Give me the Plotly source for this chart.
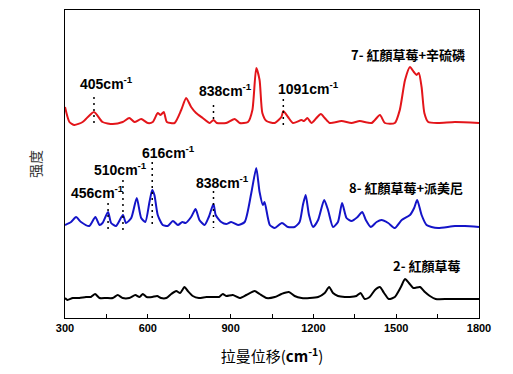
import plotly.graph_objects as go

# Raman shift (cm^-1) and intensity (a.u., offset spectra)
red_x = [300, 316, 334, 364, 405, 436, 473, 509, 533, 552, 576, 600, 618, 636, 646, 658, 669, 697, 721, 739, 757, 775, 799, 824, 838, 850, 884, 915, 933, 963, 979, 993, 1005, 1015, 1030, 1060, 1084, 1091, 1108, 1126, 1157, 1166, 1178, 1193, 1211, 1227, 1241, 1259, 1302, 1338, 1368, 1411, 1441, 1459, 1495, 1513, 1532, 1550, 1564, 1574, 1582, 1592, 1602, 1616, 1652, 1713, 1800]
red_y = [211, 196, 193, 196, 206, 196, 194, 196, 200, 196, 199, 195, 196, 205, 203, 206, 196, 195, 208, 220, 211, 205, 200, 195, 198, 195, 195, 199, 195, 196, 208, 250, 238, 205, 197, 195, 201, 207, 201, 195, 198, 197, 200, 195, 200, 204, 200, 195, 197, 195, 197, 195, 203, 195, 195, 208, 238, 251, 246, 243, 245, 231, 205, 196, 195, 196, 195]

blue_x = [300, 322, 340, 358, 388, 410, 425, 436, 456, 467, 485, 510, 521, 540, 560, 576, 591, 606, 616, 624, 636, 654, 672, 691, 709, 725, 737, 757, 773, 787, 806, 821, 838, 846, 866, 884, 902, 927, 951, 975, 993, 1005, 1017, 1023, 1042, 1060, 1086, 1108, 1132, 1150, 1162, 1172, 1184, 1199, 1217, 1239, 1253, 1271, 1289, 1304, 1320, 1338, 1360, 1377, 1390, 1408, 1429, 1447, 1471, 1495, 1520, 1550, 1565, 1576, 1592, 1610, 1628, 1652, 1713, 1749, 1800]
blue_y = [93, 96, 101, 96, 92, 101, 93, 95, 106, 95, 92, 103, 95, 100, 120, 100, 96, 116, 128, 123, 103, 93, 92, 97, 93, 96, 95, 101, 109, 98, 93, 101, 114, 103, 96, 94, 96, 93, 96, 125, 150, 126, 113, 116, 93, 90, 95, 91, 91, 96, 113, 123, 103, 91, 98, 118, 108, 91, 96, 115, 100, 97, 101, 106, 98, 91, 96, 98, 95, 90, 98, 103, 110, 118, 103, 93, 91, 90, 92, 92, 91]

black_x = [300, 309, 328, 352, 376, 394, 409, 425, 449, 473, 491, 509, 533, 555, 570, 582, 596, 616, 634, 648, 667, 685, 703, 717, 733, 745, 763, 785, 812, 842, 858, 872, 884, 908, 933, 957, 987, 1005, 1030, 1060, 1084, 1111, 1132, 1157, 1187, 1217, 1241, 1257, 1271, 1289, 1314, 1332, 1356, 1371, 1386, 1404, 1423, 1441, 1456, 1473, 1495, 1517, 1532, 1546, 1562, 1586, 1604, 1622, 1643, 1689, 1749, 1800]
black_y = [20, 18, 20, 20, 21, 21, 24, 20, 20, 20, 23, 20, 20, 23, 21, 24, 21, 21, 22, 20, 20, 24, 27, 25, 31, 27, 22, 20, 21, 21, 21, 24, 22, 23, 20, 23, 27, 24, 20, 21, 24, 26, 22, 20, 20, 21, 25, 31, 25, 22, 21, 21, 22, 25, 19, 21, 28, 31, 25, 19, 21, 31, 39, 35, 30, 31, 26, 22, 19, 19, 19, 19]

series_names = ["7-紅顏草莓+辛硫磷", "8-紅顏草莓+派美尼", "2-紅顏草莓"]
series_labels = ["7- 紅顏草莓+辛硫磷", "8- 紅顏草莓+派美尼", "2- 紅顏草莓"]
series_label_pos = [(1757, 264), (1749, 131), (1739, 53)]

# peak markers: (peak position, label text, label left x, label y, dotted line y0, y1)
red_peaks = [405, 838, 1091]
red_peak_labels = ["405cm<sup>-1</sup>", "838cm<sup>-1</sup>", "1091cm<sup>-1</sup>"]
red_label_xy = [(348, 235), (777, 228), (1064, 230)]
red_line_y = [(221, 194), (213, 195), (219, 191)]

blue_peaks = [456, 510, 616, 838]
blue_peak_labels = ["456cm<sup>-1</sup>", "510cm<sup>-1</sup>", "616cm<sup>-1</sup>", "838cm<sup>-1</sup>"]
blue_label_xy = [(316, 126), (399, 149), (573, 166), (766, 136)]
blue_line_y = [(115, 86), (138, 85), (156, 90), (127, 90)]

x_ticks = [300, 600, 900, 1200, 1500, 1800]

fig = go.Figure()
for xs, ys, col, nm in [(red_x, red_y, "#e3151a", series_names[0]),
                        (blue_x, blue_y, "#1414c8", series_names[1]),
                        (black_x, black_y, "#000000", series_names[2])]:
    fig.add_trace(go.Scatter(x=xs, y=ys, mode="lines", name=nm,
                             line=dict(color=col, width=2, shape="spline", smoothing=0.6)))

lab_font = dict(family="Liberation Sans, Arial", size=14, color="black")
for peaks, labs, xy, ly in [(red_peaks, red_peak_labels, red_label_xy, red_line_y),
                            (blue_peaks, blue_peak_labels, blue_label_xy, blue_line_y)]:
    for p, t, (lx, lyy), (y0, y1) in zip(peaks, labs, xy, ly):
        fig.add_annotation(x=lx, y=lyy, text="<b>" + t + "</b>", showarrow=False,
                           xanchor="left", yanchor="middle", font=lab_font)
        fig.add_shape(type="line", x0=p, x1=p, y0=y0, y1=y1, xref="x", yref="y",
                      line=dict(color="black", width=1.5, dash="2px,4px"))

for t, (lx, lyy) in zip(series_labels, series_label_pos):
    fig.add_annotation(x=lx, y=lyy, text="<b>" + t + "</b>", showarrow=False,
                       xanchor="right", yanchor="middle",
                       font=dict(family="Noto Sans CJK TC, Noto Sans CJK SC", size=13, color="black"))

fig.update_layout(
    width=513, height=374,
    margin=dict(l=57, r=42, t=2, b=64),
    paper_bgcolor="white", plot_bgcolor="white",
    showlegend=False,
    xaxis=dict(range=[300, 1800], tickvals=x_ticks, ticktext=["<b>%d</b>" % v for v in x_ticks],
               ticks="inside", ticklen=4, tickcolor="black",
               minor=dict(tickvals=[450, 750, 1050, 1350, 1650], ticks="inside", ticklen=4, tickcolor="black"),
               showline=True, linecolor="black", linewidth=1, mirror=True,
               showgrid=False, zeroline=False,
               tickfont=dict(family="Liberation Sans, Arial", size=11, color="black"),
               title=dict(text="拉曼位移(<b>cm<sup>-1</sup></b>)", standoff=18,
                          font=dict(family="Noto Sans CJK SC", size=15, color="black"))),
    yaxis=dict(range=[0, 308], showticklabels=False, ticks="",
               showline=True, linecolor="black", linewidth=1, mirror=True,
               showgrid=False, zeroline=False,
               title=dict(text="强度", standoff=19,
                          font=dict(family="Noto Sans CJK SC", size=14, color="#333333"))),
)

fig.write_html("out.html")
